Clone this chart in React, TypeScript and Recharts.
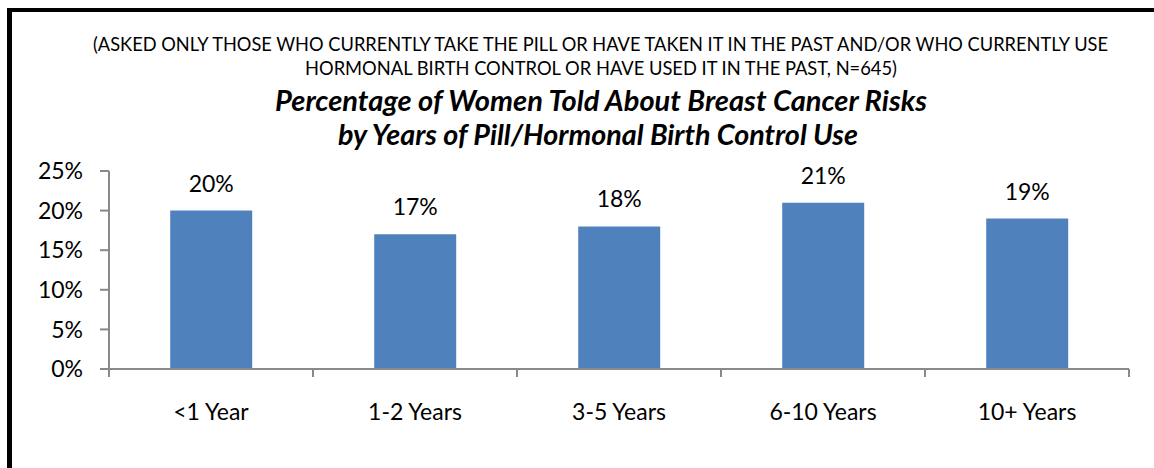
import { BarChart, Bar, XAxis, YAxis, LabelList } from 'recharts';

// ── Data ──────────────────────────────────────────────────────────────────────

const categories = ['<1 Year', '1-2 Years', '3-5 Years', '6-10 Years', '10+ Years'];
const toldPct = [0.2, 0.17, 0.18, 0.21, 0.19];
const yTicks = [0, 0.05, 0.1, 0.15, 0.2, 0.25];

const subtitleLines = [
  '(ASKED ONLY THOSE WHO CURRENTLY TAKE THE PILL OR HAVE TAKEN IT IN THE PAST AND/OR WHO CURRENTLY USE',
  'HORMONAL BIRTH CONTROL OR HAVE USED IT IN THE PAST, N=645)',
];
const titleLines = [
  'Percentage of Women Told About Breast Cancer Risks',
  'by Years of Pill/Hormonal Birth Control Use',
];

const data = categories.map((cat, i) => ({ cat, value: toldPct[i] }));

const pct = (v: number) => `${Math.round(v * 100)}%`;

const AXIS = '#898989';
const FONT = 'Lato, "Open Sans", sans-serif';
const LABEL_SIZE = 23;

// Category label + Excel-style tick marks between categories
function CatTick({ x, y, payload, index }: any) {
  const half = payload?.offset || 102;
  const i = index ?? payload?.index ?? 0;
  const last = i === categories.length - 1;
  return (
    <g>
      <line x1={x - half} x2={x - half} y1={y} y2={y + 8} stroke={AXIS} strokeWidth={2} />
      {last && <line x1={x + half} x2={x + half} y1={y} y2={y + 8} stroke={AXIS} strokeWidth={2} />}
      <text x={x} y={y + 35} dy="0.71em" textAnchor="middle" fontSize={LABEL_SIZE} fill="#000" fontFamily={FONT}>
        {payload.value}
      </text>
    </g>
  );
}

export default function App() {
  return (
    <div style={{ position: 'absolute', left: 0, top: 0, width: 1154, height: 468, background: '#fff', fontFamily: FONT }}>
      {/* frame (only top/left edges are visible in the crop) */}
      <div
        style={{
          position: 'absolute',
          left: 7,
          top: 8,
          width: 1160,
          height: 480,
          borderLeft: '5px solid #000',
          borderTop: '4px solid #000',
          boxSizing: 'border-box',
        }}
      />

      {/* headings */}
      <svg width={1154} height={160} style={{ position: 'absolute', left: 0, top: 0 }}>
        <text x={93} y={51} fontSize={19} fill="#000" textLength={1015} lengthAdjust="spacingAndGlyphs">
          {subtitleLines[0]}
        </text>
        <text x={305} y={75} fontSize={19} fill="#000" textLength={592} lengthAdjust="spacingAndGlyphs">
          {subtitleLines[1]}
        </text>
        <text
          x={275}
          y={111}
          fontSize={28}
          fontWeight="bold"
          fontStyle="italic"
          fill="#000"
          textLength={652}
          lengthAdjust="spacingAndGlyphs"
        >
          {titleLines[0]}
        </text>
        <text
          x={338}
          y={145}
          fontSize={28}
          fontWeight="bold"
          fontStyle="italic"
          fill="#000"
          textLength={520}
          lengthAdjust="spacingAndGlyphs"
        >
          {titleLines[1]}
        </text>
      </svg>

      <div style={{ position: 'absolute', left: 0, top: 0 }}>
        <BarChart
          width={1154}
          height={468}
          data={data}
          margin={{ top: 171, right: 25, left: 0, bottom: 39 }}
          barCategoryGap="30%"
        >
          <XAxis
            dataKey="cat"
            height={60}
            axisLine={{ stroke: AXIS, strokeWidth: 2 }}
            tickLine={false}
            tickSize={0}
            tickMargin={0}
            interval={0}
            tick={<CatTick />}
          />
          <YAxis
            domain={[0, 0.25]}
            ticks={yTicks}
            tickFormatter={pct}
            width={109}
            tickSize={9}
            tickMargin={17}
            axisLine={{ stroke: AXIS, strokeWidth: 2 }}
            tickLine={{ stroke: AXIS, strokeWidth: 2 }}
            tick={{ fontSize: LABEL_SIZE, fill: '#000', fontFamily: FONT }}
          />
          <Bar dataKey="value" fill="#4F81BD" isAnimationActive={false}>
            <LabelList
              dataKey="value"
              position="top"
              offset={19}
              formatter={(v: any) => pct(Number(v))}
              style={{ fontSize: LABEL_SIZE, fill: '#000', fontFamily: FONT }}
            />
          </Bar>
        </BarChart>
      </div>
    </div>
  );
}
